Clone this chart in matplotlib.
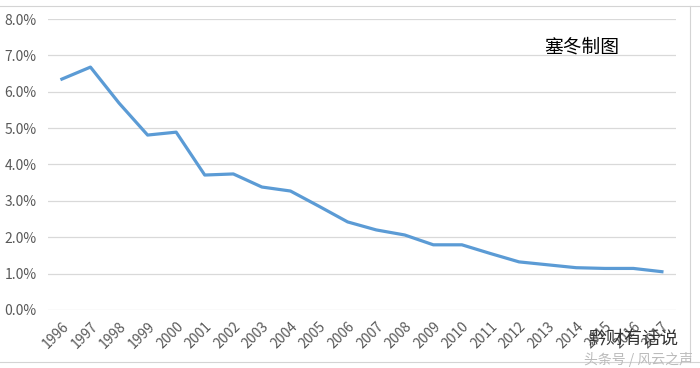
import matplotlib.pyplot as plt
from matplotlib.ticker import PercentFormatter

years = ['1996', '1997', '1998', '1999', '2000', '2001', '2002', '2003', '2004', '2005', '2006',
         '2007', '2008', '2009', '2010', '2011', '2012', '2013', '2014', '2015', '2016', '2017']
rates = [6.35, 6.68, 5.69, 4.81, 4.89, 3.71, 3.74, 3.38, 3.27, 2.85, 2.42,
         2.20, 2.06, 1.79, 1.79, 1.55, 1.32, 1.24, 1.16, 1.14, 1.14, 1.05]

plt.rcParams['font.family'] = ['Noto Sans CJK SC', 'DejaVu Sans']

fig = plt.figure(figsize=(7, 3.68), dpi=100)
ax = fig.add_axes([0.068, 0.158, 0.898, 0.79])

x = range(len(years))
ax.plot(x, rates, color='#5B9BD5', linewidth=2.3, solid_joinstyle='round')

ax.set_xlim(-0.5, len(years) - 0.5)
ax.set_ylim(0, 8)
ax.set_yticks([i for i in range(9)])
ax.yaxis.set_major_formatter(PercentFormatter(decimals=1))
ax.set_xticks(list(x))
ax.set_xticklabels(years, rotation=45, ha='right', va='top', rotation_mode='anchor')
ax.tick_params(axis='both', length=0, colors='#595959', labelsize=10)
ax.tick_params(axis='x', pad=7)
ax.tick_params(axis='y', pad=8)
ax.grid(axis='y', color='#D9D9D9', linewidth=0.9)
ax.set_axisbelow(True)
for s in ax.spines.values():
    s.set_visible(False)

ax.text(0.79, 0.885, '塞冬制图', transform=ax.transAxes, fontsize=13.5, color='black')

# sheet gridlines around the chart
fig.add_artist(plt.Line2D([0, 1], [0.985, 0.985], color='#D4D4D4', linewidth=0.8))
fig.add_artist(plt.Line2D([0, 1], [0.017, 0.017], color='#D4D4D4', linewidth=0.8))
fig.add_artist(plt.Line2D([0.986, 0.986], [0.017, 0.985], color='#D4D4D4', linewidth=0.8))

# watermark
fig.text(0.84, 0.065, '黔财有话说', fontsize=13, color='#333333', ha='left')
fig.text(0.835, 0.01, '头条号 / 风云之声', fontsize=10, color='#bbbbbb', ha='left')

fig.savefig('out.png', dpi=100)
